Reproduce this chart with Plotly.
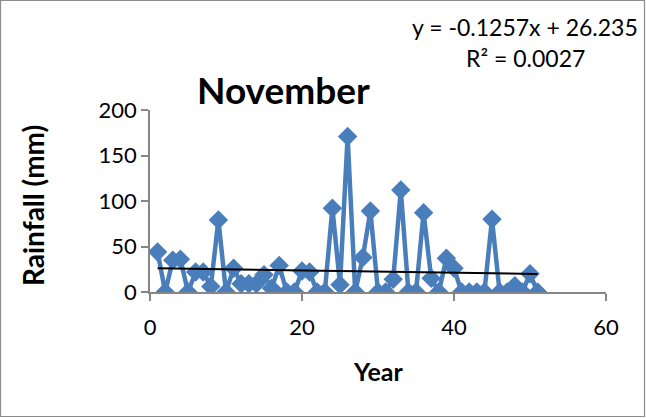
import plotly.graph_objects as go

# November rainfall by year
years = list(range(1, 52))
rainfall = [44, 0, 35, 36, 0, 22, 22, 6, 79, 0,
            26, 9, 9, 9, 19, 4, 29, 0, 0, 23,
            22, 0, 0, 92, 8, 171, 0, 38, 89, 0,
            0, 14, 112, 0, 0, 87, 15, 0, 37, 26,
            0, 0, 0, 0, 80, 0, 0, 7, 0, 20, 0]

# Linear trend line coefficients
slope = -0.1257
intercept = 26.235
r_squared = 0.0027

x_ticks = [0, 20, 40, 60]
y_ticks = [0, 50, 100, 150, 200]

W, H = 646, 418
ML, MR, MT, MB = 150, 40, 110, 126
PW, PH = W - ML - MR, H - MT - MB

FONT = "Lato"
BLUE = "#4A7EBB"
AXIS = "#868686"

trend_x = [years[0], years[-1]]
trend_y = [slope * x + intercept for x in trend_x]

fig = go.Figure()
fig.add_trace(go.Scatter(
    x=years, y=rainfall, mode="lines+markers",
    line=dict(color=BLUE, width=4.5),
    marker=dict(symbol="diamond", size=15, color=BLUE),
    showlegend=False, hoverinfo="x+y",
))
fig.add_trace(go.Scatter(
    x=trend_x, y=trend_y, mode="lines",
    line=dict(color="black", width=2),
    showlegend=False, hoverinfo="skip",
))


def px_x(p):
    return (p - ML) / PW


def px_y(p):
    return 1 - (p - MT) / PH


def label(text, x, y, size, angle=0):
    return dict(text=text, x=px_x(x), y=px_y(y), xref="paper", yref="paper",
                showarrow=False, xanchor="center", yanchor="middle", textangle=angle,
                font=dict(family=FONT, size=size, color="black"))


annotations = [
    label("<b>November</b>", 283, 90, 37),
    label(f"y = {slope}x + {intercept}", 525, 27, 23),
    label(f"R² = {r_squared}", 525, 58, 23),
    label("<b>Year</b>", 378, 371, 25),
    label("<b>Rainfall (mm)</b>", 33, 205, 28, angle=-90),
]

fig.update_layout(
    width=W, height=H,
    margin=dict(l=ML, r=MR, t=MT, b=MB),
    paper_bgcolor="white", plot_bgcolor="white",
    font=dict(family=FONT, color="black"),
    annotations=annotations,
    shapes=[dict(type="rect", xref="paper", yref="paper",
                 x0=px_x(0.5), x1=px_x(W - 1.5), y0=px_y(H - 1.5), y1=px_y(0.5),
                 line=dict(color="#8C8C8C", width=1.2), layer="below")],
    xaxis=dict(
        range=[0, 60], tickvals=x_ticks, ticktext=[str(v) for v in x_ticks],
        showgrid=False, zeroline=False, showline=True, linecolor=AXIS, linewidth=1.5,
        ticks="outside", ticklen=7, tickcolor=AXIS, tickwidth=1.5,
        tickfont=dict(family=FONT, size=22, color="black"), ticklabelstandoff=8,
    ),
    yaxis=dict(
        range=[0, 200], tickvals=y_ticks, ticktext=[str(v) for v in y_ticks],
        showgrid=False, zeroline=False, showline=True, linecolor=AXIS, linewidth=1.5,
        ticks="outside", ticklen=7, tickcolor=AXIS, tickwidth=1.5,
        tickfont=dict(family=FONT, size=22, color="black"),
    ),
)

fig.write_html("out.html")
